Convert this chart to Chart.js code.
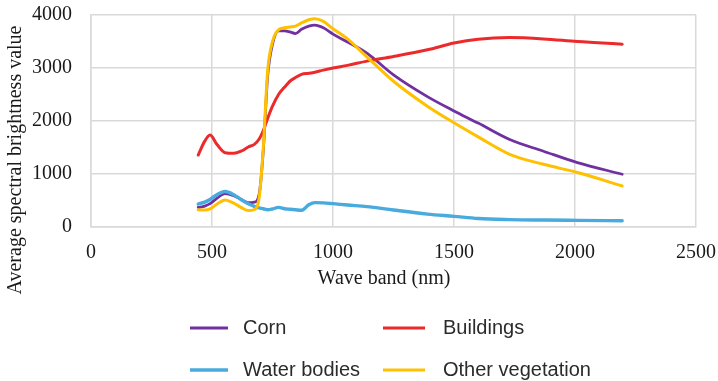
<!DOCTYPE html>
<html>
<head>
<meta charset="utf-8">
<script src="https://cdn.jsdelivr.net/npm/chart.js@4/dist/chart.umd.min.js"></script>
<style>
  html, body { margin: 0; padding: 0; background: #ffffff; }
  #wrap { width: 718px; height: 381px; position: relative; }
</style>
</head>
<body>
<div id="wrap"><canvas id="c" width="718" height="381"></canvas></div>
<script>
// Wavelength samples (nm) shared by every spectral curve
const wavelengths = [443, 470, 492, 520, 554, 590, 620, 650, 675, 695, 712, 730, 750, 775, 800, 822, 845, 870, 900, 925, 960, 1000, 1060, 1140, 1250, 1390, 1500, 1600, 1730, 1870, 2010, 2195];

// Average spectral brightness per land-cover class
const corn = [370, 395, 440, 540, 630, 590, 520, 460, 470, 620, 1450, 2850, 3450, 3700, 3700, 3680, 3650, 3730, 3790, 3810, 3760, 3640, 3490, 3280, 2870, 2460, 2190, 1960, 1650, 1430, 1215, 995];
const buildings = [1358, 1620, 1735, 1560, 1400, 1390, 1430, 1510, 1560, 1660, 1820, 2050, 2280, 2500, 2640, 2750, 2820, 2880, 2900, 2920, 2960, 3000, 3050, 3130, 3217, 3343, 3470, 3543, 3574, 3549, 3499, 3450];
const waterBodies = [432, 470, 520, 610, 670, 610, 520, 440, 390, 360, 345, 325, 340, 370, 345, 335, 325, 315, 420, 460, 455, 440, 415, 385, 320, 244, 201, 160, 140, 131, 125, 118];
const otherVegetation = [325, 320, 340, 430, 510, 450, 370, 310, 330, 560, 1500, 2950, 3500, 3720, 3760, 3775, 3790, 3850, 3910, 3930, 3880, 3740, 3550, 3210, 2750, 2280, 1966, 1700, 1371, 1183, 1027, 776];

const seriesNames = ['Corn', 'Buildings', 'Water bodies', 'Other vegetation'];
const seriesColors = ['#7030a0', '#ec2a2b', '#48aadd', '#ffc000'];
const seriesValues = [corn, buildings, waterBodies, otherVegetation];
const seriesWidths = [2.8, 3, 3.4, 3];
const seriesOrder = [3, 2, 1, 0];

const xTicks = [0, 500, 1000, 1500, 2000, 2500];
const yTicks = [0, 1000, 2000, 3000, 4000];

const serif = '"Liberation Serif", "Times New Roman", serif';
const sans = '"Liberation Sans", Arial, sans-serif';

const datasets = seriesValues.map((vals, i) => ({
  label: seriesNames[i],
  data: wavelengths.map((w, k) => ({ x: w, y: vals[k] })),
  borderColor: seriesColors[i],
  backgroundColor: seriesColors[i],
  borderWidth: seriesWidths[i],
  pointRadius: 0,
  fill: false,
  cubicInterpolationMode: 'monotone',
  borderCapStyle: 'round',
  borderJoinStyle: 'round',
  order: seriesOrder[i]
}));

// Axis titles and the two-column legend below the plot
const annotations = {
  id: 'annotations',
  afterDraw(chart) {
    const ctx = chart.ctx;
    ctx.save();
    ctx.fillStyle = '#1a1a1a';
    ctx.font = '20px ' + serif;
    ctx.textAlign = 'center';
    ctx.textBaseline = 'middle';
    ctx.fillText('Wave band (nm)', 384, 279);

    ctx.save();
    ctx.translate(16, 160);
    ctx.rotate(-Math.PI / 2);
    ctx.fillText('Average spectral brightness value', 0, 0);
    ctx.restore();

    const slots = [
      { x0: 190, x1: 228, tx: 243, y: 328 },
      { x0: 383, x1: 425, tx: 443, y: 328 },
      { x0: 190, x1: 228, tx: 243, y: 370 },
      { x0: 383, x1: 425, tx: 443, y: 370 }
    ];
    ctx.font = '20px ' + sans;
    ctx.textAlign = 'left';
    chart.data.datasets.forEach((ds, i) => {
      const s = slots[i];
      ctx.strokeStyle = ds.borderColor;
      ctx.lineWidth = ds.borderWidth;
      ctx.lineCap = 'butt';
      ctx.beginPath();
      ctx.moveTo(s.x0, s.y);
      ctx.lineTo(s.x1, s.y);
      ctx.stroke();
      ctx.fillStyle = '#2b2b2b';
      ctx.fillText(ds.label, s.tx, s.y);
    });
    ctx.restore();
  }
};

const plainNumber = (v) => String(v);

// Fixed axis box sizes with no extra room reserved for label overhang
const fixX = (scale) => {
  scale.height = 154;
  scale.paddingLeft = 0; scale.paddingRight = 0;
  scale.paddingTop = 0; scale.paddingBottom = 0;
};
const fixY = (scale) => {
  scale.width = 91;
  scale.paddingLeft = 0; scale.paddingRight = 0;
  scale.paddingTop = 0; scale.paddingBottom = 0;
};

new Chart(document.getElementById('c'), {
  type: 'line',
  data: { datasets },
  options: {
    responsive: false,
    animation: false,
    devicePixelRatio: 1,
    layout: { padding: { left: 0, right: 22, top: 15, bottom: 0 } },
    plugins: {
      legend: { display: false },
      tooltip: { enabled: false }
    },
    scales: {
      x: {
        type: 'linear',
        min: 0,
        max: 2500,
        afterBuildTicks: (scale) => { scale.ticks = xTicks.map(v => ({ value: v })); },
        afterFit: fixX,
        grid: { color: '#d9d9d9', lineWidth: 1.5, drawTicks: false },
        border: { color: '#d9d9d9', width: 1.5 },
        ticks: { color: '#1a1a1a', font: { family: serif, size: 20 }, padding: 14, maxRotation: 0, callback: plainNumber }
      },
      y: {
        type: 'linear',
        min: 0,
        max: 4000,
        afterBuildTicks: (scale) => { scale.ticks = yTicks.map(v => ({ value: v })); },
        afterFit: fixY,
        grid: { color: '#d9d9d9', lineWidth: 1.5, drawTicks: false },
        border: { color: '#d9d9d9', width: 1.5 },
        ticks: { color: '#1a1a1a', font: { family: serif, size: 20 }, padding: 19, callback: plainNumber }
      }
    }
  },
  plugins: [annotations]
});
</script>
</body>
</html>
